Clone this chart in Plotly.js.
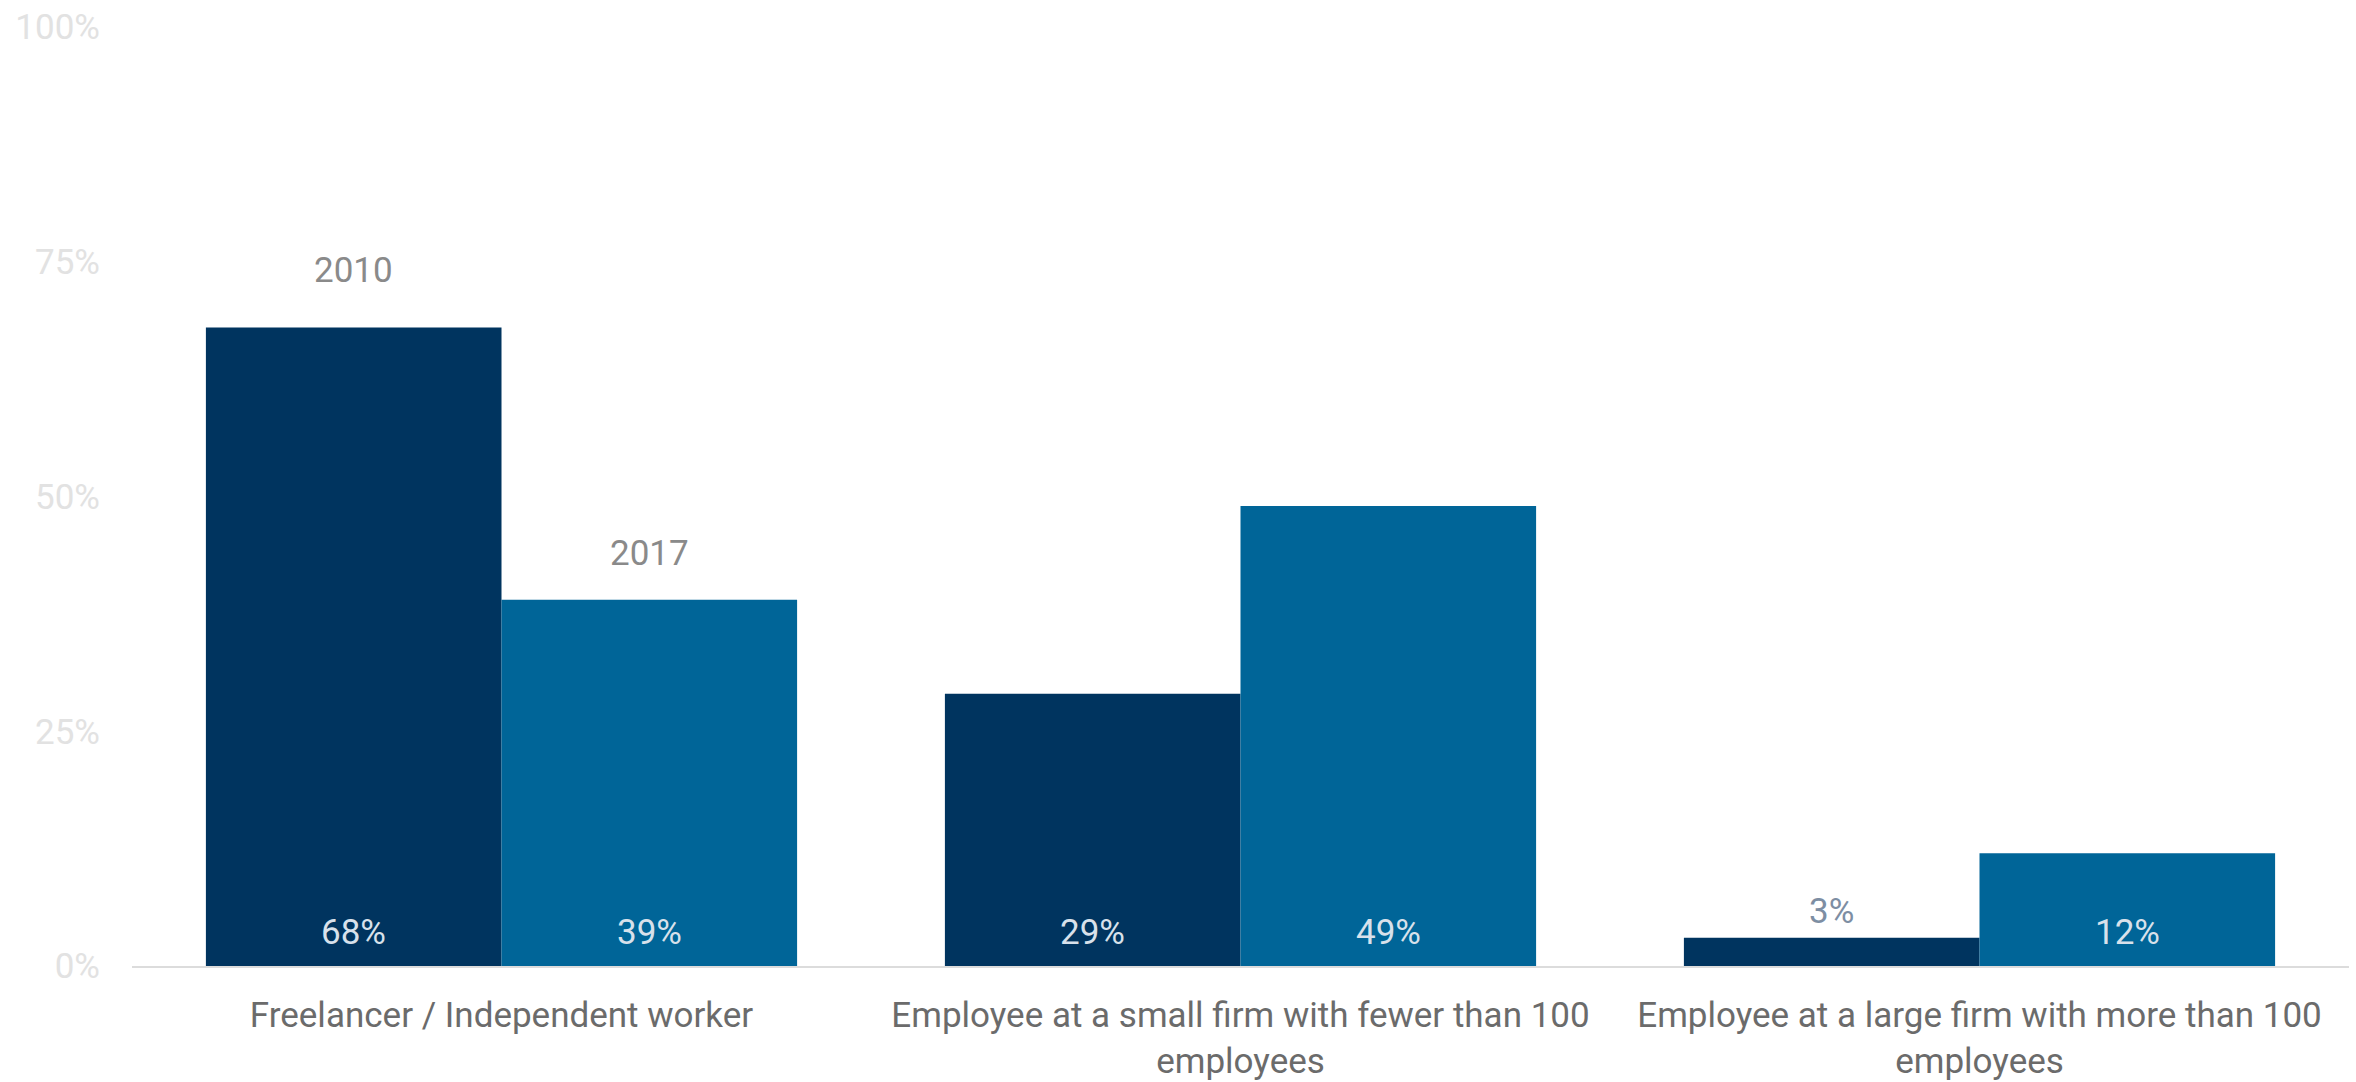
<!DOCTYPE html>
<html>
<head>
<meta charset="utf-8">
<script src="https://cdn.plot.ly/plotly-3.0.1.min.js"></script>
<style>
html,body{margin:0;padding:0;background:#fff;}
#chart{width:2356px;height:1082px;}
</style>
</head>
<body>
<div id="chart"></div>
<script>
const categories = [
  "Freelancer / Independent worker",
  "Employee at a small firm with fewer than 100<br>employees",
  "Employee at a large firm with more than 100<br>employees"
];
const seriesNames = ["2010", "2017"];
const values2010 = [68, 29, 3];
const values2017 = [39, 49, 12];
const yTickVals = [0, 25, 50, 75, 100];
const yTickText = ["0%", "25%", "50%", "75%", "100%"];

const FONT = "Roboto, 'Liberation Sans', sans-serif";
const FS = 35;
const colors = ["#00345f", "#006598"];
const seriesValues = [values2010, values2017];
const offsets = [-0.2, 0.2];

const traces = seriesValues.map((vals, i) => ({
  type: "bar",
  name: seriesNames[i],
  x: categories,
  y: vals,
  marker: {color: colors[i]},
  hoverinfo: "skip"
}));

const annotations = [];
seriesValues.forEach((vals, i) => {
  vals.forEach((v, j) => {
    const outside = v < 8;
    annotations.push({
      x: j + offsets[i], y: outside ? v : 0, xref: "x", yref: "y",
      text: v + "%", showarrow: false, yanchor: "bottom",
      yshift: outside ? 4 : 11,
      font: {family: FONT, size: FS, color: outside ? "#7d8ea3" : "#d8e1eb"}
    });
  });
});
// series name labels above the first category
annotations.push({x: offsets[0], y: values2010[0], xref: "x", yref: "y", text: seriesNames[0],
  showarrow: false, yanchor: "bottom", yshift: 34, font: {family: FONT, size: FS, color: "#8a8a8a"}});
annotations.push({x: offsets[1], y: values2017[0], xref: "x", yref: "y", text: seriesNames[1],
  showarrow: false, yanchor: "bottom", yshift: 24, font: {family: FONT, size: FS, color: "#8a8a8a"}});

const layout = {
  width: 2356,
  height: 1082,
  margin: {l: 132, r: 7, t: 27, b: 116},
  paper_bgcolor: "#ffffff",
  plot_bgcolor: "#ffffff",
  showlegend: false,
  barmode: "group",
  bargap: 0.2,
  bargroupgap: 0,
  font: {family: FONT, color: "#6b6b6b", size: FS},
  xaxis: {
    type: "category",
    showline: true,
    linecolor: "#dcdcdc",
    linewidth: 2,
    showgrid: false,
    ticks: "",
    tickfont: {family: FONT, size: FS, color: "#6b6b6b"},
    ticklabelstandoff: 17,
    zeroline: false
  },
  yaxis: {
    range: [0, 100],
    tickvals: yTickVals,
    ticktext: yTickText,
    showgrid: false,
    zeroline: false,
    showline: false,
    ticks: "",
    tickfont: {family: FONT, size: FS, color: "#e2e2e2"},
    ticklabelstandoff: 31
  },
  annotations: annotations
};

Plotly.newPlot("chart", traces, layout, {displayModeBar: false, staticPlot: true});
</script>
</body>
</html>
